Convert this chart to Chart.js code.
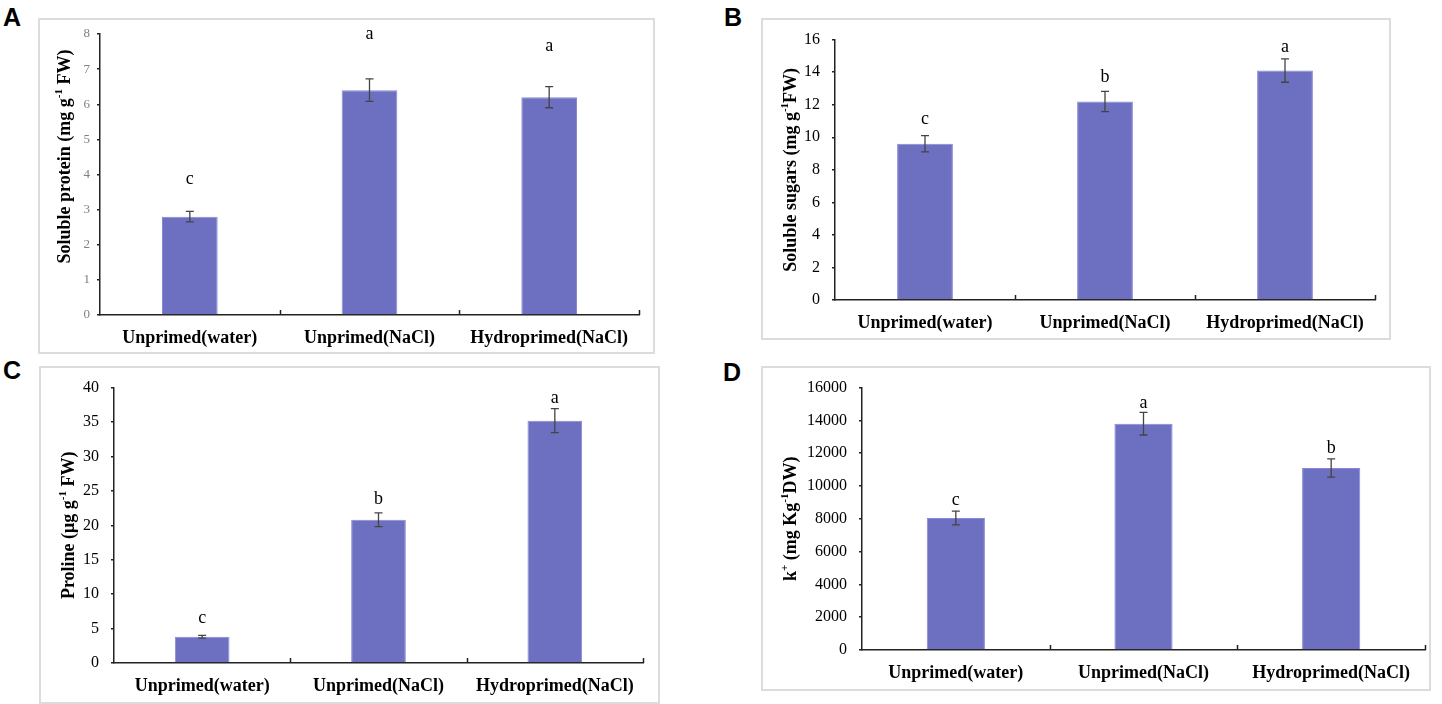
<!DOCTYPE html>
<html>
<head>
<meta charset="utf-8">
<script src="https://cdn.jsdelivr.net/npm/chart.js@4.4.1/dist/chart.umd.min.js"></script>
<style>
  body { margin: 0; background: #fff; width: 1442px; height: 704px; position: relative; overflow: hidden; }
  .box { position: absolute; border: 2px solid #dcdcdc; box-sizing: border-box; }
  .box canvas { position: absolute; left: -2px; top: -2px; }
  .tag { position: absolute; font: bold 25px "Liberation Sans", Arial, sans-serif; color: #000; line-height: 1; }
</style>
</head>
<body>
<div class="tag" style="left:3px;top:5px">A</div>
<div class="tag" style="left:724px;top:5px">B</div>
<div class="tag" style="left:3px;top:358px">C</div>
<div class="tag" style="left:723px;top:360px">D</div>
<div class="box" id="boxA"><canvas id="chartA"></canvas></div>
<div class="box" id="boxB"><canvas id="chartB"></canvas></div>
<div class="box" id="boxC"><canvas id="chartC"></canvas></div>
<div class="box" id="boxD"><canvas id="chartD"></canvas></div>
<script>
// data
const categories = ['Unprimed(water)', 'Unprimed(NaCl)', 'Hydroprimed(NaCl)'];

const proteinValues = [2.8, 6.4, 6.2];
const proteinErrors = [0.15, 0.32, 0.3];
const proteinLetters = ['c', 'a', 'a'];
const proteinLetterAt = [3.87, 8.0, 7.66];
const proteinTicks = [0, 1, 2, 3, 4, 5, 6, 7, 8];

const sugarValues = [9.6, 12.2, 14.1];
const sugarErrors = [0.5, 0.62, 0.72];
const sugarLetters = ['c', 'b', 'a'];
const sugarLetterAt = [11.08, 13.7, 15.54];
const sugarTicks = [0, 2, 4, 6, 8, 10, 12, 14, 16];

const prolineValues = [3.8, 20.8, 35.2];
const prolineErrors = [0.2, 1.0, 1.75];
const prolineLetters = ['c', 'b', 'a'];
const prolineLetterAt = [6.47, 23.8, 38.5];
const prolineTicks = [0, 5, 10, 15, 20, 25, 30, 35, 40];

const potassiumValues = [8050, 13800, 11100];
const potassiumErrors = [420, 690, 560];
const potassiumLetters = ['c', 'a', 'b'];
const potassiumLetterAt = [9120, 15050, 12290];
const potassiumTicks = [0, 2000, 4000, 6000, 8000, 10000, 12000, 14000, 16000];

const SERIF = '"Liberation Serif", "Times New Roman", serif';
const BAR = '#6d70c1';

// box: [left, top, width, height]; area: [left, top, right, bottom] inside the box
const panels = [
  { id: 'A', values: proteinValues, errors: proteinErrors, letters: proteinLetters, letterAt: proteinLetterAt, ticks: proteinTicks,
    title: [['Soluble protein (mg g', 0], ['-1', 1], [' FW)', 0]],
    box: [38, 18, 617, 336], area: [62, 16, 601, 297], titleX: 27, titleShift: -18,
    tickSize: 13, tickColor: '#808080', tickPad: 7 },
  { id: 'B', values: sugarValues, errors: sugarErrors, letters: sugarLetters, letterAt: sugarLetterAt, ticks: sugarTicks,
    title: [['Soluble sugars (mg g', 0], ['-1', 1], ['FW)', 0]],
    box: [761, 18, 630, 322], area: [74, 16, 614, 282], titleX: 30, titleShift: 0,
    tickSize: 16, tickColor: '#000', tickPad: 12 },
  { id: 'C', values: prolineValues, errors: prolineErrors, letters: prolineLetters, letterAt: prolineLetterAt, ticks: prolineTicks,
    title: [['Proline (\u03bcg g', 0], ['-1', 1], [' FW)', 0]],
    box: [39, 366, 621, 338], area: [75, 17, 604, 297], titleX: 30, titleShift: 0,
    tickSize: 16, tickColor: '#000', tickPad: 12 },
  { id: 'D', values: potassiumValues, errors: potassiumErrors, letters: potassiumLetters, letterAt: potassiumLetterAt, ticks: potassiumTicks,
    title: [['k', 0], ['+', 1], [' (mg Kg', 0], ['-1', 1], ['DW)', 0]],
    box: [761, 366, 670, 325], area: [101, 17, 664, 284], titleX: 30, titleShift: 0,
    tickSize: 16, tickColor: '#000', tickPad: 12 }
];

function extras(p) {
  return {
    id: 'extras' + p.id,
    afterDatasetsDraw(chart) {
      const ctx = chart.ctx, x = chart.scales.x, y = chart.scales.y;
      const meta = chart.getDatasetMeta(0);
      ctx.save();
      // error bars
      ctx.strokeStyle = '#444';
      ctx.lineWidth = 1.3;
      meta.data.forEach((bar, i) => {
        const v = p.values[i];
        const hi = y.getPixelForValue(v + p.errors[i]);
        const lo = y.getPixelForValue(v - p.errors[i]);
        ctx.beginPath();
        ctx.moveTo(bar.x, hi); ctx.lineTo(bar.x, lo);
        ctx.moveTo(bar.x - 4, hi); ctx.lineTo(bar.x + 4, hi);
        ctx.moveTo(bar.x - 4, lo); ctx.lineTo(bar.x + 4, lo);
        ctx.stroke();
      });
      // significance letters
      ctx.fillStyle = '#000';
      ctx.font = '18px ' + SERIF;
      ctx.textAlign = 'center';
      ctx.textBaseline = 'middle';
      meta.data.forEach((bar, i) => {
        ctx.fillText(p.letters[i], bar.x, y.getPixelForValue(p.letterAt[i]));
      });
      // short upward ticks at category boundaries
      const step = (x.right - x.left) / categories.length;
      ctx.strokeStyle = '#222';
      ctx.lineWidth = 1.5;
      ctx.beginPath();
      for (let i = 1; i <= categories.length; i++) {
        const px = Math.round(x.left + step * i) + 0.5;
        ctx.moveTo(px, y.bottom);
        ctx.lineTo(px, y.bottom - 5);
      }
      ctx.stroke();
      // y axis title with superscripts
      const big = 'bold 18px ' + SERIF, small = 'bold 11px ' + SERIF;
      let total = 0;
      p.title.forEach(([t, sup]) => { ctx.font = sup ? small : big; total += ctx.measureText(t).width; });
      ctx.translate(p.titleX, (y.top + y.bottom) / 2 + p.titleShift);
      ctx.rotate(-Math.PI / 2);
      ctx.textAlign = 'left';
      ctx.textBaseline = 'middle';
      let cx = -total / 2;
      p.title.forEach(([t, sup]) => {
        ctx.font = sup ? small : big;
        ctx.fillText(t, cx, sup ? -6 : 0);
        cx += ctx.measureText(t).width;
      });
      ctx.restore();
    }
  };
}

panels.forEach(p => {
  const [bl, bt, bw, bh] = p.box;
  const [al, at, ar, ab] = p.area;
  const box = document.getElementById('box' + p.id);
  Object.assign(box.style, { left: bl + 'px', top: bt + 'px', width: bw + 'px', height: bh + 'px' });
  const cv = document.getElementById('chart' + p.id);
  cv.width = bw; cv.height = bh;
  cv.style.width = bw + 'px'; cv.style.height = bh + 'px';

  new Chart(cv, {
    type: 'bar',
    data: {
      labels: categories,
      datasets: [{
        data: p.values,
        backgroundColor: BAR,
        borderColor: '#8588d6',
        borderWidth: 1,
        categoryPercentage: 1,
        barPercentage: 0.31
      }]
    },
    options: {
      responsive: false,
      animation: false,
      layout: { padding: { top: at, right: bw - ar, left: 0, bottom: 0 } },
      plugins: { legend: { display: false }, tooltip: { enabled: false } },
      scales: {
        x: {
          grid: { display: false },
          border: { display: true, color: '#222', width: 1.5 },
          ticks: { color: '#000', padding: 5, font: { family: SERIF, size: 18, weight: 'bold' } },
          afterFit: s => { s.height = bh - ab; }
        },
        y: {
          min: p.ticks[0],
          max: p.ticks[p.ticks.length - 1],
          ticks: { stepSize: p.ticks[1] - p.ticks[0], color: p.tickColor, padding: p.tickPad,
                   font: { family: SERIF, size: p.tickSize },
                   callback: v => String(v) },
          grid: { display: true, drawOnChartArea: false, drawTicks: true, tickLength: 3, color: '#222', lineWidth: 1.5 },
          border: { display: true, color: '#222', width: 1.5 },
          afterFit: s => { s.width = al; }
        }
      }
    },
    plugins: [extras(p)]
  });
});
</script>
</body>
</html>
